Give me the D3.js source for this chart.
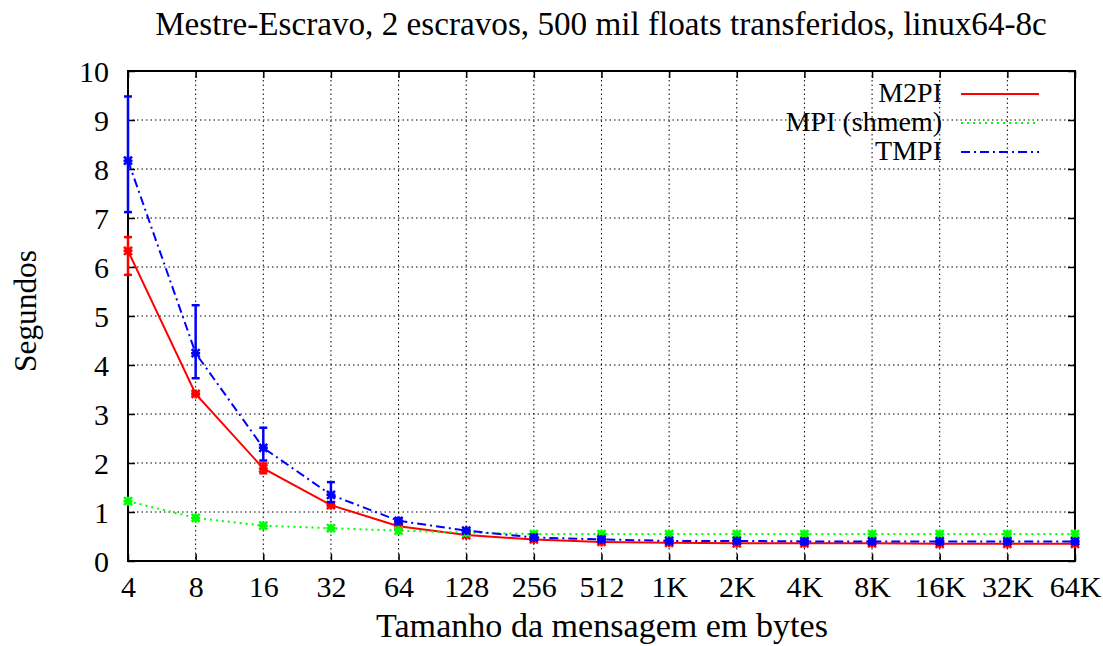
<!DOCTYPE html>
<html><head><meta charset="utf-8">
<script src="https://cdn.jsdelivr.net/npm/d3@7"></script>
<style>body{margin:0;background:#fff}svg{display:block}</style>
</head><body><svg id="c" width="1103" height="646"></svg>
<script>
const categories = ["4","8","16","32","64","128","256","512","1K","2K","4K","8K","16K","32K","64K"];
const m2piVals = [6.33,3.41,1.89,1.14,0.71,0.53,0.44,0.39,0.37,0.36,0.36,0.36,0.35,0.35,0.35];
const m2piLow  = [5.84,3.38,1.79,1.10,0.69,0.52,0.43,0.38,0.36,0.35,0.35,0.35,0.34,0.34,0.34];
const m2piHigh = [6.61,3.44,1.99,1.18,0.73,0.54,0.45,0.40,0.38,0.37,0.37,0.37,0.36,0.36,0.36];
const mpiVals  = [1.22,0.88,0.72,0.67,0.62,0.58,0.55,0.55,0.55,0.55,0.55,0.55,0.55,0.55,0.55];
const tmpiVals = [8.17,4.24,2.31,1.35,0.82,0.62,0.48,0.44,0.41,0.41,0.40,0.40,0.40,0.40,0.40];
const tmpiLow  = [7.12,3.73,2.05,1.20,0.78,0.60,0.46,0.42,0.39,0.39,0.38,0.38,0.38,0.38,0.38];
const tmpiHigh = [9.48,5.22,2.72,1.61,0.87,0.65,0.50,0.46,0.43,0.43,0.42,0.42,0.42,0.42,0.42];
const yTicks = [0,1,2,3,4,5,6,7,8,9,10];
const seriesNames = ["M2PI","MPI (shmem)","TMPI"];
const titleText = "Mestre-Escravo, 2 escravos, 500 mil floats transferidos, linux64-8c";
const xTitle = "Tamanho da mensagem em bytes";
const yTitle = "Segundos";

const FONT = "Liberation Serif";
const svg = d3.select("#c");
const L=128, R=1075, T=71, B=561;
const x = d3.scalePoint().domain(categories).range([L,R]);
const y = d3.scaleLinear().domain([0,10]).range([B,T]);

function fit(sel, w){ // scale font-size so text width equals w
  const fs = +sel.attr("font-size");
  const len = sel.node().getComputedTextLength();
  sel.attr("font-size", (fs*w/len).toFixed(2));
}

// grid
const g = svg.append("g");
g.selectAll(".gx").data(categories.slice(1,-1)).enter().append("line")
 .attr("x1",d=>x(d)).attr("x2",d=>x(d)).attr("y1",T).attr("y2",B)
 .attr("stroke","#000").attr("stroke-width",1).attr("stroke-dasharray","1.5,3");
g.selectAll(".gy").data(yTicks.slice(1,-1)).enter().append("line")
 .attr("x1",L).attr("x2",R).attr("y1",d=>y(d)).attr("y2",d=>y(d))
 .attr("stroke","#000").attr("stroke-width",1).attr("stroke-dasharray","1.5,3");

// axes
const TFS = 30;
const styleAxis = s=>{s.select(".domain").remove();s.attr("font-family",FONT).attr("font-size",TFS);
  s.selectAll("text").attr("font-family",FONT).attr("font-size",TFS).attr("fill","#000");
  s.selectAll("line").attr("stroke-width",1.5);};
svg.append("g").attr("transform",`translate(0,${B})`).call(d3.axisBottom(x).tickSize(-7).tickPadding(15)).call(styleAxis);
svg.append("g").attr("transform",`translate(0,${T})`).call(d3.axisTop(x).tickSize(-7).tickFormat("")).call(styleAxis);
svg.append("g").attr("transform",`translate(${L},0)`).call(d3.axisLeft(y).tickValues(yTicks).tickSize(-7).tickPadding(19)).call(styleAxis)
  .selectAll("text").attr("dy","0.34em");
svg.append("g").attr("transform",`translate(${R},0)`).call(d3.axisRight(y).tickValues(yTicks).tickSize(-7).tickFormat("")).call(styleAxis);
svg.append("rect").attr("x",L).attr("y",T).attr("width",R-L).attr("height",B-T)
  .attr("fill","none").attr("stroke","#000").attr("stroke-width",2);

// series
const series = [
 {name:seriesNames[0], vals:m2piVals, lo:m2piLow, hi:m2piHigh, color:"#ff0000", dash:null},
 {name:seriesNames[1], vals:mpiVals, lo:null, hi:null, color:"#00ff00", dash:"2,4"},
 {name:seriesNames[2], vals:tmpiVals, lo:tmpiLow, hi:tmpiHigh, color:"#0000ff", dash:"9,4,2,4"}
];
const line = d3.line().x((d,i)=>x(categories[i])).y(d=>y(d));
const star = "M-4,-4L4,4M-4,4L4,-4M-4.5,0L4.5,0M0,-4.5L0,4.5";
series.forEach(s=>{
  const sg = svg.append("g");
  sg.append("path").datum(s.vals).attr("d",line).attr("fill","none")
    .attr("stroke",s.color).attr("stroke-width",2).attr("stroke-dasharray",s.dash);
  if (s.lo){
    categories.forEach((c,i)=>{
      const xx=x(c), y1=y(s.lo[i]), y2=y(s.hi[i]);
      sg.append("line").attr("x1",xx).attr("x2",xx).attr("y1",y1).attr("y2",y2).attr("stroke",s.color).attr("stroke-width",2.5);
      [y1,y2].forEach(yy=>sg.append("line").attr("x1",xx-4).attr("x2",xx+4).attr("y1",yy).attr("y2",yy).attr("stroke",s.color).attr("stroke-width",2.5));
    });
  }
  sg.selectAll(".pt").data(s.vals).enter().append("path")
    .attr("transform",(d,i)=>`translate(${x(categories[i])},${y(d)})`)
    .attr("d",star).attr("stroke",s.color).attr("stroke-width",2.5).attr("fill","none");
});

// legend
series.forEach((s,i)=>{
  const yy = 94 + i*29;
  svg.append("text").attr("x",942).attr("y",yy+8).attr("text-anchor","end")
    .attr("font-family",FONT).attr("font-size",28).attr("fill","#000").text(s.name);
  svg.append("line").attr("x1",961).attr("x2",1039).attr("y1",yy).attr("y2",yy)
    .attr("stroke",s.color).attr("stroke-width",2).attr("stroke-dasharray",s.dash);
});

// titles
const tt = svg.append("text").attr("x",601).attr("y",35).attr("text-anchor","middle")
  .attr("font-family",FONT).attr("font-size",24).attr("fill","#000").text(titleText);
fit(tt, 892);
const xt = svg.append("text").attr("x",602).attr("y",637).attr("text-anchor","middle")
  .attr("font-family",FONT).attr("font-size",24).attr("fill","#000").text(xTitle);
fit(xt, 452);
const yt = svg.append("text").attr("transform","translate(36,311) rotate(-90)").attr("text-anchor","middle")
  .attr("font-family",FONT).attr("font-size",24).attr("fill","#000").text(yTitle);
fit(yt, 122);
</script></body></html>
